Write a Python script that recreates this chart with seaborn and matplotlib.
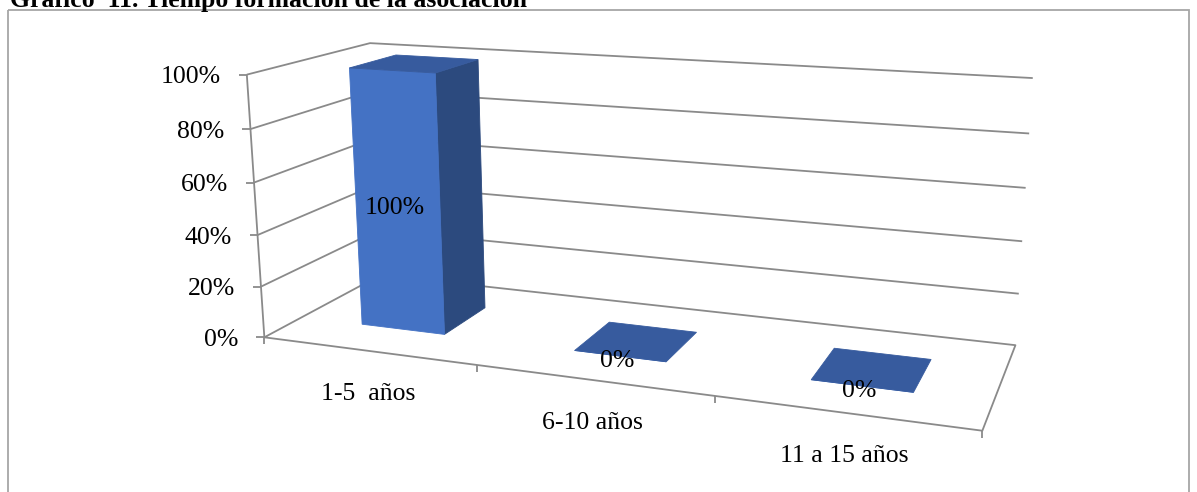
import numpy as np
import matplotlib
matplotlib.use("Agg")
import matplotlib.pyplot as plt
import matplotlib.transforms as mtransforms
from matplotlib.patches import Rectangle
import seaborn as sns
import pandas as pd

# ---------------- data ----------------
categories = ["1-5  años", "6-10 años", "11 a 15 años"]
values = [1.0, 0.0, 0.0]
y_ticks = [0.0, 0.2, 0.4, 0.6, 0.8, 1.0]
y_tick_labels = ["0%", "20%", "40%", "60%", "80%", "100%"]
title = "Gráfico  11. Tiempo formación de la asociación"

# ---------------- layout / style ----------------
W, H = 1197, 492
# 3D view: world (category, value, depth) -> image pixels (perspective camera)
CAMERA = np.array([[193.163372, -29.138889, 173.839019, 368.005674],
                   [8.915368, -273.094162, -24.745752, 350.802629],
                   [-0.053517, -0.045133, 0.142961, 1.0]])
BAR_WIDTH = 0.4
BAR_Z = (0.3, 0.7)          # bar depth range on the floor (0 = front, 1 = back)
FRONT, TOP, SIDE = "#4472C4", "#375B9E", "#2C4A7E"
GRID = "#8A8A8A"
FS = 18.5
EM = FS * 100 / 72

sns.set_theme(style="white")
plt.rcParams["font.family"] = ["Liberation Serif", "DejaVu Serif"]


def project(X, Y, Z):
    X, Y, Z = np.broadcast_arrays(np.asarray(X, float), np.asarray(Y, float),
                                  np.asarray(Z, float))
    h = np.stack([X, Y, Z, np.ones_like(X)], axis=-1) @ CAMERA.T
    return h[..., 0] / h[..., 2], h[..., 1] / h[..., 2]


class PlaneAtDepth(mtransforms.Transform):
    """Maps (category, value) on the plane depth=z to image pixels."""
    input_dims = output_dims = 2
    is_separable = False
    has_inverse = False

    def __init__(self, z):
        super().__init__()
        self.z = z

    def transform_non_affine(self, values):
        v = np.asarray(values, float).reshape(-1, 2)
        u, w = project(v[:, 0], v[:, 1], self.z)
        return np.column_stack([u, w])


fig = plt.figure(figsize=(W / 100, H / 100), dpi=100)
ax = fig.add_axes([0, 0, 1, 1])

df = pd.DataFrame({"pos": np.arange(len(categories)), "categoria": categories,
                   "valor": values})
sns.barplot(data=df, x="pos", y="valor", native_scale=True, orient="x",
            width=BAR_WIDTH, color=FRONT, saturation=1, errorbar=None, ax=ax,
            zorder=5, linewidth=0.6, edgecolor=FRONT)
ax.set_autoscale_on(False)

z0, z1 = BAR_Z
bar_patches = list(ax.patches)
for p in bar_patches:
    p.set_transform(PlaneAtDepth(z0) + ax.transData)
    p.set_clip_on(False)
    x0, w, h = p.get_x(), p.get_width(), p.get_height()
    x1 = x0 + w
    if h > 0:
        sx, sy = project(x1, [0, 0, h, h], [z0, z1, z1, z0])
        ax.fill(sx, sy, color=SIDE, lw=0.6, ec=SIDE, zorder=4, clip_on=False)
    tx, ty = project([x0, x1, x1, x0], h, [z0, z0, z1, z1])
    ax.fill(tx, ty, color=TOP, lw=0.6, ec=TOP, zorder=6, clip_on=False)
    # data label on the centre of the front face
    lx, ly = project(x0 + w / 2, h / 2, z0)
    ax.text(lx - 2.5, ly + 11, f"{h:.0%}", ha="center", va="baseline",
            fontsize=FS, color="black", zorder=10)

# walls: gridlines on side wall and back wall
xa, xb = -0.5, len(categories) - 0.5
lkw = dict(color=GRID, lw=1.3, zorder=1, solid_capstyle="butt", clip_on=False)
for t in y_ticks[1:]:
    gx, gy = project([xa, xa, xb], t, [0, 1, 1])
    ax.plot(gx, gy, **lkw)
# floor outline
fx, fy = project([xa, xb, xb, xa, xa], 0, [0, 0, 1, 1, 0])
ax.plot(fx, fy, **lkw)
# value axis
vx, vy = project(xa, [0, 1], 0)
ax.plot(vx, vy, **lkw)
for t, lab in zip(y_ticks, y_tick_labels):
    px, py = project(xa, t, 0)
    ax.plot([px - 8, px], [py, py], **lkw)
    ax.text(px - 26, py + 0.33 * EM, lab, ha="right", va="baseline",
            fontsize=FS, color="black")
# category axis ticks and labels
for b in np.arange(xa, xb + 0.01, 1.0):
    px, py = project(b, 0, 0)
    ax.plot([px, px], [py, py + 7], **lkw)
for i, c in enumerate(categories):
    px, py = project(i, 0, 0)
    ax.text(px, py + 49, c, ha="center", va="baseline", fontsize=FS,
            color="black")

# chart frame and (cut) caption
ax.add_patch(Rectangle((7.5, 10), 1189 - 7.5, 500, fill=False, ec="#A6A6A6",
                       lw=1.3, zorder=0, clip_on=False))
ax.text(10, 7.5, title, ha="left", va="baseline", fontsize=FS,
        fontweight="bold", color="black")

ax.set_xlim(0, W)
ax.set_ylim(H, 0)
ax.axis("off")
fig.savefig("out.png", dpi=100)
